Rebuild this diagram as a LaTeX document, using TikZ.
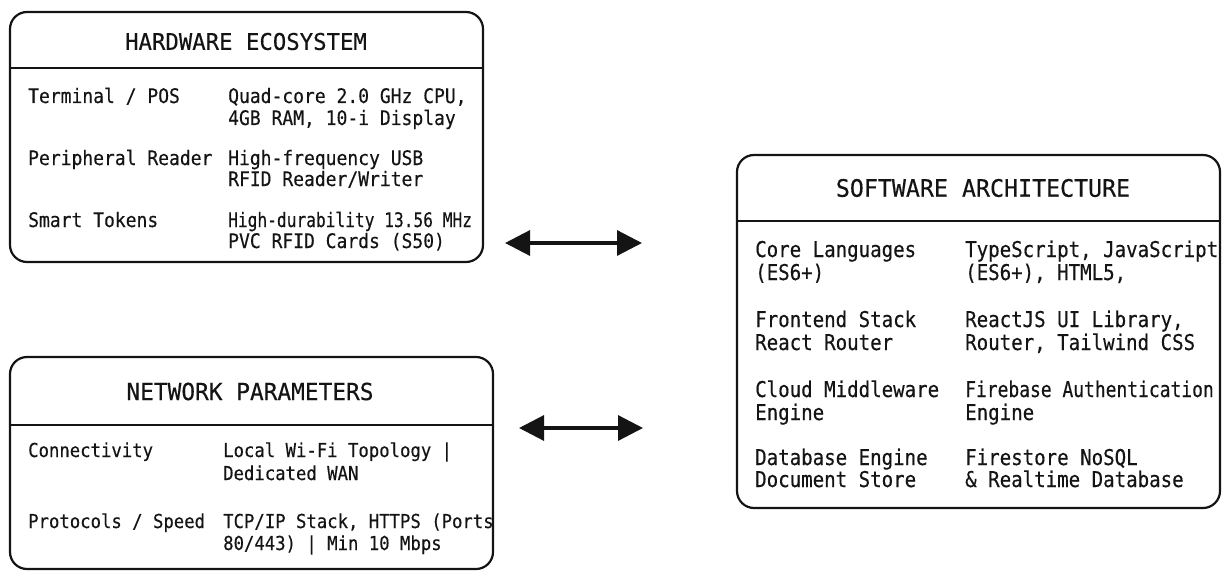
\documentclass[tikz,border=0pt]{standalone}
\usepackage{fontspec}
\usetikzlibrary{arrows.meta}
\newfontfamily\bodyfont[FakeStretch=0.9,FakeBold=0.35]{DejaVu Sans Mono}
\newfontfamily\swfont[FakeStretch=0.88,FakeBold=0.35]{DejaVu Sans Mono}
\newfontfamily\headfont[FakeStretch=0.97,FakeBold=0.35]{DejaVu Sans Mono}
\newcommand\narrowed[2]{\scalebox{#1}[1]{#2}}
\definecolor{ink}{HTML}{141414}
\tikzset{
  panel/.style={draw=ink, line width=2.2pt, rounded corners=17pt, inner sep=0pt},
  rule/.style={draw=ink, line width=2.2pt},
  title/.style={text=ink, inner sep=0pt, font=\headfont\fontsize{23}{26}\selectfont},
  hwtxt/.style={text=ink, inner sep=0pt, anchor=base west, font=\bodyfont\fontsize{20}{22}\selectfont},
  nettxt/.style={text=ink, inner sep=0pt, anchor=base west, font=\bodyfont\fontsize{19.2}{22}\selectfont},
  swtxt/.style={text=ink, inner sep=0pt, anchor=base west, font=\swfont\fontsize{21.7}{24}\selectfont},
  link/.style={draw=ink, line width=3.2pt, {Triangle[length=25pt,width=25pt]}-{Triangle[length=25pt,width=25pt]}}
}
\begin{document}
\begin{tikzpicture}[x=1pt, y=-1pt]
\useasboundingbox (0,0) rectangle (1222,572);

% ---- hardware panel ----
\node[panel, minimum width=473pt, minimum height=250pt] (hw) at (246.5,137) {};
\draw[rule] (hw.west |- 0,68) -- (hw.east |- 0,68);
\node[title] (hwT) at (246,41.5) {HARDWARE ECOSYSTEM};
\node[hwtxt] (hw1a) at (28,103) {Terminal / POS};
\node[hwtxt] (hw1b) at (228,103) {Quad-core 2.0 GHz CPU,};
\node[hwtxt] (hw1c) at (228,125) {4GB RAM, 10-i Display};
\node[hwtxt] (hw2a) at (28,165) {Peripheral Reader};
\node[hwtxt] (hw2b) at (228,165) {High-frequency USB};
\node[hwtxt] (hw2c) at (228,186) {RFID Reader/Writer};
\node[hwtxt] (hw3a) at (28,227) {Smart Tokens};
\node[hwtxt] (hw3b) at (228,227) {\narrowed{0.9}{High-durability 13.56 MHz}};
\node[hwtxt] (hw3c) at (228,248) {PVC RFID Cards (S50)};

% ---- network panel ----
\node[panel, minimum width=483pt, minimum height=212pt] (net) at (251.5,463) {};
\draw[rule] (net.west |- 0,425) -- (net.east |- 0,425);
\node[title, font=\headfont\fontsize{23.5}{26}\selectfont] (netT) at (250,391.5) {NETWORK PARAMETERS};
\node[nettxt] (net1a) at (28,457) {Connectivity};
\node[nettxt] (net1b) at (223,457) {Local Wi-Fi Topology |};
\node[nettxt] (net1c) at (223,480) {Dedicated WAN};
\node[nettxt] (net2a) at (28,528) {Protocols / Speed};
\node[nettxt] (net2b) at (223,528) {TCP/IP Stack, HTTPS (Ports};
\node[nettxt] (net2c) at (223,550) {80/443) | Min 10 Mbps};

% ---- software panel ----
\node[panel, minimum width=483pt, minimum height=353pt] (sw) at (978.5,331.5) {};
\draw[rule] (sw.west |- 0,221) -- (sw.east |- 0,221);
\node[title, font=\headfont\fontsize{24}{27}\selectfont] (swT) at (983,188) {SOFTWARE ARCHITECTURE};
\node[swtxt] (sw1a) at (755,257) {Core Languages};
\node[swtxt] (sw1b) at (755,280) {(ES6+)};
\node[swtxt] (sw1c) at (965,257) {TypeScript, JavaScript};
\node[swtxt] (sw1d) at (965,280) {(ES6+), HTML5,};
\node[swtxt] (sw2a) at (755,327) {Frontend Stack};
\node[swtxt] (sw2b) at (755,350) {React Router};
\node[swtxt] (sw2c) at (965,327) {ReactJS UI Library,};
\node[swtxt] (sw2d) at (965,350) {Router, Tailwind CSS};
\node[swtxt] (sw3a) at (755,397) {Cloud Middleware};
\node[swtxt] (sw3b) at (755,420) {Engine};
\node[swtxt] (sw3c) at (965,397) {\narrowed{0.94}{Firebase Authentication}};
\node[swtxt] (sw3d) at (965,420) {Engine};
\node[swtxt] (sw4a) at (755,465) {Database Engine};
\node[swtxt] (sw4b) at (755,487) {Document Store};
\node[swtxt] (sw4c) at (965,465) {Firestore NoSQL};
\node[swtxt] (sw4d) at (965,487) {\& Realtime Database};

% ---- two-way links ----
\coordinate (l1a) at (505,243);
\coordinate (l1b) at (642,243);
\coordinate (l2a) at (519,428);
\coordinate (l2b) at (643,428);
\draw[link] (l1a) -- (l1b);
\draw[link] (l2a) -- (l2b);
\end{tikzpicture}
\end{document}
